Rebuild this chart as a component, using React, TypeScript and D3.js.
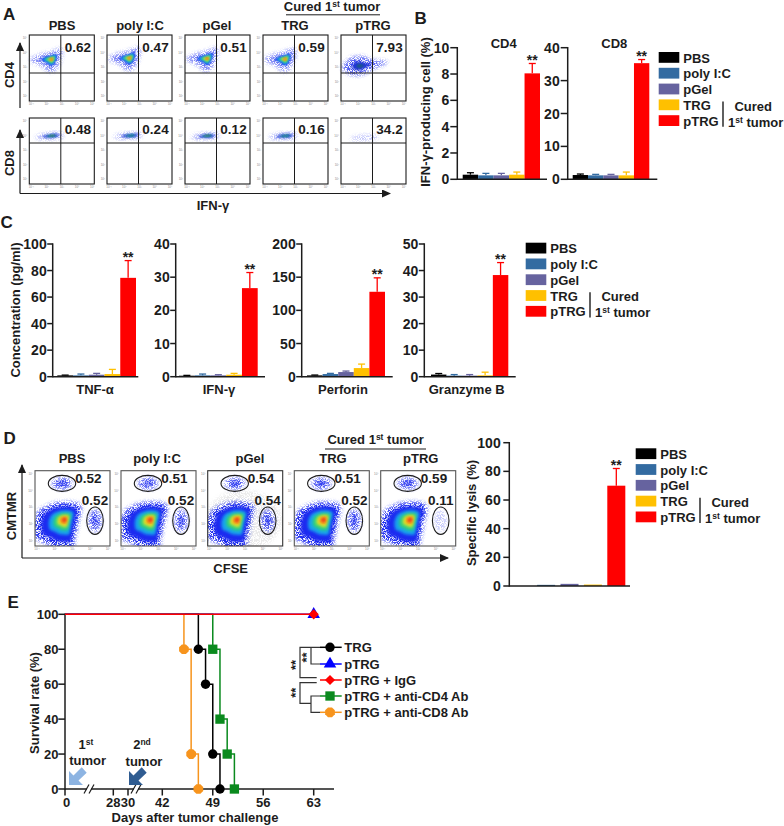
import React from "react";
import * as d3 from "d3";

const groups = ["PBS", "poly I:C", "pGel", "TRG", "pTRG"];
const groupColors = ["#000000", "#336ba1", "#66639f", "#ffc000", "#ff0000"];

// panel A
const cd4Gates = ["0.62", "0.47", "0.51", "0.59", "7.93"];
const cd8Gates = ["0.48", "0.24", "0.12", "0.16", "34.2"];

// panel B
const cd4Means = [0.35, 0.3, 0.3, 0.35, 8.05];
const cd4Tops = [0.5, 0.45, 0.45, 0.55, 8.8];
const cd8Means = [1.3, 1.2, 1.2, 1.2, 35.3];
const cd8Tops = [1.6, 1.5, 1.5, 2.2, 36.4];

// panel C
const tnfMeans = [1, 1, 1.5, 2, 74.5];
const tnfTops = [1.2, 2, 2.5, 5.5, 87.5];
const ifnMeans = [0.3, 0.4, 0.4, 0.6, 26.7];
const ifnTops = [0.4, 0.8, 0.6, 1, 31.4];
const perforinMeans = [2, 4, 7, 13, 128];
const perforinTops = [2.5, 5, 8.5, 19, 149];
const granzymeMeans = [0.8, 0.4, 0.4, 0.5, 38.3];
const granzymeTops = [1.2, 0.8, 0.8, 1.7, 43];

// panel D
const upperGates = ["0.52", "0.51", "0.54", "0.51", "0.59"];
const lowerGates = ["0.52", "0.52", "0.54", "0.52", "0.11"];
const lysisMeans = [0, 0.8, 1.5, 1, 70];
const lysisTops = [0, 0.8, 1.5, 1, 82];

// panel E
const survivalTicks = [0, 28, 30, 42, 49, 56, 63];
const trgDays = [0, 47, 47, 48, 49, 50];
const trgSurvival = [100, 100, 80, 60, 20, 0];
const cd4Days = [0, 49, 49, 50, 51, 52];
const cd4Survival = [100, 100, 80, 40, 20, 0];
const cd8Days = [0, 45, 45, 46, 47];
const cd8Survival = [100, 100, 80, 20, 0];
const ptrgDays = [0, 63];
const ptrgSurvival = [100, 100];

// contour outlines of the flow plots, around the hottest point
const wedgeOutline = [[-20, 1], [-12, -4], [-3, -6], [9, -10], [9, -1], [4, 9], [-2, 12], [-9, 6]];
const cloudOutline = [[-16, 2], [-9, -7], [1, -9], [14, -5], [26, -4], [12, 3], [2, 8], [-8, 8]];
const smearOutline = [[-16, 1], [-6, -2], [4, -3], [10, -2], [8, 2], [-2, 3], [-10, 3]];
const fanOutline = [[-29, 5], [-24, -8], [-10, -15], [6, -16], [15, -12], [12, 4], [9, 18], [7, 27], [-8, 27], [-18, 22], [-27, 18]];

const hotColors = ["#1c2cf0", "#14a4ec", "#2fd07c", "#dfe52a", "#f78c12", "#e8261a"];
const fanScales = [0.82, 0.56, 0.4, 0.27, 0.17, 0.09];
const wedgeScales = [0.56, 0.46, 0.33, 0.22, 0.13, 0.07];
const cloudColors = ["#2436d8", "#1f5f78"];
const cloudScales = [0.5, 0.22];
const smearColors = ["#2a48d8", "#1c9a80", "#5a7a30"];
const smearScales = [0.62, 0.36, 0.16];

const FONT = "'Liberation Sans', Arial, sans-serif";
const INK = "#1c1c1c";

const Label = ({ x, y, size = 13, anchor = "middle", rotate, children }: any) => (
  <text
    x={x}
    y={y}
    fontFamily={FONT}
    fontWeight="700"
    fontSize={size}
    fill={INK}
    textAnchor={anchor}
    transform={rotate ? `rotate(${rotate} ${x} ${y})` : undefined}
  >
    {children}
  </text>
);

const First = ({ x, y, anchor = "start" }: any) => (
  <Label x={x} y={y} anchor={anchor}>
    1<tspan dy={-4} fontSize={8.5}>st</tspan>
    <tspan dy={4}> tumor</tspan>
  </Label>
);

// density blob from nested closed curves, outer one speckled
const Blob = ({ cx, cy, outline, colors = hotColors, scales = fanScales, blur = "soft", clip, grain = 1 }: any) => {
  const shape = (k: number) =>
    d3
      .line()
      .curve(d3.curveCardinalClosed.tension(0.2))(
        outline.map(([px, py]: number[]) => [cx + px * k, cy + py * k]),
      ) as string;
  return (
    <g clipPath={clip}>
      <path d={shape(1.08)} fill={hotColors[0]} opacity={grain} filter="url(#grain)" />
      {scales.map((k: number, i: number) => (
        <path key={i} d={shape(k)} fill={colors[i]} filter={`url(#${blur})`} />
      ))}
    </g>
  );
};

const Tiny = ({ box, w, h }: any) => {
  const labels = ["10⁻¹", "10²", "10³", "10⁴", "10⁵"];
  return (
    <g fontFamily={FONT} fontSize={3} fill="#8a8a8a">
      {labels.map((t, i) => (
        <text key={t} x={box + 2 + (i * (w - 4)) / 4} y={h + 4} textAnchor="middle">{t}</text>
      ))}
    </g>
  );
};

const TinyY = ({ box, top, h }: any) => {
  const labels = ["10⁵", "10⁴", "10³", "10²", "10¹"];
  return (
    <g fontFamily={FONT} fontSize={3} fill="#8a8a8a">
      {labels.map((t, i) => (
        <text key={t} x={box - 2} y={top + 4 + (i * (h - 8)) / 4} textAnchor="end">{t}</text>
      ))}
    </g>
  );
};

const BarPanel = ({ x0, x1, axisX, axisEnd, top, bottom, max, count, means, tops, padding = 0, tick = 7, gap = 8 }: any) => {
  const y = d3.scaleLinear().domain([0, max]).range([bottom, top]);
  const x = d3.scaleBand<string>().domain(groups).range([x0, x1]).padding(padding);
  const w = x.bandwidth();
  return (
    <g>
      {groups.map((g, i) => {
        const left = x(g) as number;
        const mid = left + w / 2;
        return (
          <g key={g}>
            {means[i] > 0 && tops[i] > means[i] && (
              <g stroke={groupColors[i]} strokeWidth={1.3}>
                <line x1={mid} x2={mid} y1={y(means[i])} y2={y(tops[i])} />
                <line x1={mid - 3.5} x2={mid + 3.5} y1={y(tops[i])} y2={y(tops[i])} />
              </g>
            )}
            <rect x={left} y={y(means[i])} width={w} height={bottom - y(means[i])} fill={groupColors[i]} />
          </g>
        );
      })}
      <Label x={(x(groups[4]) as number) + w / 2} y={y(tops[4]) + 1.5} size={14}>**</Label>
      <g stroke={INK} strokeWidth={1.5}>
        <line x1={axisX} x2={axisX} y1={top - 0.7} y2={bottom + 0.7} />
        <line x1={axisX} x2={axisEnd} y1={bottom} y2={bottom} />
        {y.ticks(count).map((t) => (
          <line key={t} x1={axisX - tick} x2={axisX} y1={y(t)} y2={y(t)} />
        ))}
      </g>
      {y.ticks(count).map((t) => (
        <Label key={t} x={axisX - gap} y={y(t) + 5} size={14} anchor="end">{t}</Label>
      ))}
    </g>
  );
};

const GroupLegend = ({ x, y }: any) => (
  <g>
    {groups.map((g, i) => (
      <g key={g}>
        <rect x={x} y={y + i * 15.8} width={20.6} height={10.8} fill={groupColors[i]} />
        <Label x={x + 24.6} y={y + 10.5 + i * 15.8} anchor="start">{g}</Label>
      </g>
    ))}
    <line x1={x + 64.3} x2={x + 64.3} y1={y + 49.5} y2={y + 74.7} stroke={INK} strokeWidth={1.4} />
    <Label x={x + 94.5} y={y + 58.7}>Cured</Label>
    <First x={x + 69.3} y={y + 74.7} />
  </g>
);

const Arrow = ({ x, y, fill }: any) => {
  const pts: [number, number][] = [[0, 0], [0, -14], [4.5, -9.5], [12.7, -17.7], [17.7, -12.3], [9.5, -4.5], [14, 0]];
  return <polygon points={pts.map(([a, b]) => `${x + a},${y + b}`).join(" ")} fill={fill} />;
};

const octagon = {
  draw(ctx: any, size: number) {
    const r = Math.sqrt(size / 2.83);
    d3.range(8).forEach((i) => {
      const a = Math.PI / 8 + (i * Math.PI) / 4;
      if (i === 0) ctx.moveTo(r * Math.cos(a), r * Math.sin(a));
      else ctx.lineTo(r * Math.cos(a), r * Math.sin(a));
    });
    ctx.closePath();
  },
};

const survivalSeries = [
  { name: "TRG", color: "#000000", symbol: d3.symbolCircle, days: trgDays, rates: trgSurvival, size: 70 },
  { name: "pTRG", color: "#0000ff", symbol: d3.symbolTriangle, days: ptrgDays, rates: ptrgSurvival, size: 68 },
  { name: "pTRG + IgG", color: "#ff0000", symbol: d3.symbolDiamond2, days: ptrgDays, rates: ptrgSurvival, size: 66 },
  { name: "pTRG + anti-CD4 Ab", color: "#0a8a1e", symbol: d3.symbolSquare, days: cd4Days, rates: cd4Survival, size: 87 },
  { name: "pTRG + anti-CD8 Ab", color: "#f7941d", symbol: octagon, days: cd8Days, rates: cd8Survival, size: 78 },
];
const drawOrder = [0, 3, 4, 1, 2];

const Survival = () => {
  const x = d3.scaleLinear().domain([0, 28, 30, 42, 63, 66]).range([65, 113.3, 128, 162.3, 313.7, 334]);
  const y = d3.scaleLinear().domain([0, 100]).range([789, 614.3]);
  const step = d3.line<[number, number]>().x((d) => x(d[0])).y((d) => y(d[1])).curve(d3.curveStepAfter);
  const legendY = [647.3, 664, 680, 696, 712.3];
  return (
    <g>
      <g stroke={INK} strokeWidth={1.5}>
        <line x1={65} x2={65} y1={613.6} y2={789.7} />
        <line x1={65} x2={334} y1={789} y2={789} />
        {y.ticks(5).map((t) => (
          <line key={t} x1={58.3} x2={65} y1={y(t)} y2={y(t)} />
        ))}
        {survivalTicks.map((t) => (
          <line key={t} x1={x(t)} x2={x(t)} y1={789} y2={795.5} />
        ))}
      </g>
      {y.ticks(5).map((t) => (
        <Label key={t} x={58.5} y={y(t) + 4.7} anchor="end">{t}</Label>
      ))}
      {survivalTicks.map((t) => (
        <Label key={t} x={x(t) + (t === 0 ? 1.5 : 0)} y={806.7}>{t}</Label>
      ))}
      {[89, 136].map((bx) => (
        <g key={bx}>
          <rect x={bx - 2} y={786} width={4} height={6} fill="#fff" />
          <line x1={bx - 5} x2={bx} y1={793.5} y2={784.5} stroke={INK} strokeWidth={1.2} />
          <line x1={bx} x2={bx + 5} y1={793.5} y2={784.5} stroke={INK} strokeWidth={1.2} />
        </g>
      ))}
      {drawOrder.map((k) => {
        const s = survivalSeries[k];
        const pts = s.days.map((d, i) => [d, s.rates[i]] as [number, number]);
        const marks = s.days.length === 2 ? pts.slice(1) : pts.slice(2);
        const glyph = d3.symbol().type(s.symbol as any).size(s.size)() as string;
        return (
          <g key={s.name}>
            <path d={step(pts) as string} fill="none" stroke={s.color} strokeWidth={1.5} />
            {marks.map((p, i) => (
              <path key={i} d={glyph} fill={s.color} transform={`translate(${x(p[0])},${y(p[1])})`} />
            ))}
          </g>
        );
      })}
      {survivalSeries.map((s, i) => (
        <g key={s.name}>
          <line x1={320} x2={341.7} y1={legendY[i]} y2={legendY[i]} stroke={s.color} strokeWidth={1.5} />
          <path d={d3.symbol().type(s.symbol as any).size(s.size)() as string} fill={s.color} transform={`translate(330,${legendY[i]})`} />
          <Label x={344.3} y={legendY[i] + 4.6} anchor="start">{s.name}</Label>
        </g>
      ))}
      <path
        d="M320,647.3H300V677.7H316.7 M311,647.3V664H320 M316.7,682.7H300V703.3H311 M320,696H311V712.3H320"
        fill="none"
        stroke="#333"
        strokeWidth={1.2}
      />
      <Label x={311} y={657.5} rotate={-90}>**</Label>
      <Label x={300} y={665} rotate={-90}>**</Label>
      <Label x={300} y={692.7} rotate={-90}>**</Label>
      <Label x={86} y={749}>1<tspan dy={-4} fontSize={8.5}>st</tspan></Label>
      <Label x={87.7} y={765}>tumor</Label>
      <Label x={142} y={749}>2<tspan dy={-4} fontSize={8.5}>nd</tspan></Label>
      <Label x={144} y={765.5}>tumor</Label>
      <Arrow x={69} y={785} fill="#8db4e2" />
      <Arrow x={129} y={785} fill="#2f5c91" />
      <Label x={195} y={822}>Days after tumor challenge</Label>
      <Label x={38.5} y={703} rotate={-90}>Survival rate (%)</Label>
    </g>
  );
};

const App = () => {
  const boxesA = [29.3, 107, 185, 263, 341];
  const wA = 65;
  const boxesD = [35, 121, 207.7, 294.3, 380.7];
  const wD = 75;
  const titleA = [62, 140, 217, 295, 373];
  const titleD = [72, 157, 250, 333, 420.7];
  const cd4Peak = [[22.3, 24.3], [22.7, 23], [22.3, 23.5], [22.3, 24]];
  const cd8Peak = [[23, 17.8], [24, 17.5], [23, 17.8], [23, 17.8]];
  return (
    <svg width={784} height={826} style={{ position: "absolute", left: 0, top: 0, background: "#fff" }}>
      <defs>
        <filter id="soft" x="-40%" y="-40%" width="180%" height="180%">
          <feGaussianBlur stdDeviation="0.8" />
        </filter>
        <filter id="wide" x="-40%" y="-40%" width="180%" height="180%">
          <feGaussianBlur stdDeviation="1.7" />
        </filter>
        <filter id="grain" x="-30%" y="-30%" width="160%" height="160%">
          <feGaussianBlur stdDeviation="2" result="body" />
          <feTurbulence type="fractalNoise" baseFrequency="1.25" numOctaves="1" seed="7" result="noise" />
          <feColorMatrix in="noise" type="matrix" values="0 0 0 0 0  0 0 0 0 0  0 0 0 0 0  8 0 0 0 -3.4" result="mask" />
          <feComposite in="body" in2="mask" operator="in" />
        </filter>
        <marker id="head" markerWidth="10" markerHeight="10" refX="8" refY="4" orient="auto" markerUnits="userSpaceOnUse">
          <path d="M0,0L9,4L0,8Z" fill={INK} />
        </marker>
        {boxesD.map((b, i) => (
          <clipPath key={i} id={`boxD${i}`}>
            <rect x={b} y={470.7} width={wD} height={75.3} />
          </clipPath>
        ))}
      </defs>

      {/* A */}
      <Label x={3} y={20} size={17} anchor="start">A</Label>
      {groups.map((g, i) => (
        <Label key={g} x={titleA[i]} y={30}>{g}</Label>
      ))}
      <Label x={332} y={10.5}>Cured 1<tspan dy={-4} fontSize={8.5}>st</tspan><tspan dy={4}> tumor</tspan></Label>
      <line x1={286} x2={380} y1={14.8} y2={14.8} stroke={INK} strokeWidth={1} />
      {boxesA.map((b, i) => (
        <g key={b}>
          {i < 4 ? (
            <Blob cx={b + cd4Peak[i][0]} cy={35 + cd4Peak[i][1]} outline={wedgeOutline} scales={wedgeScales} grain={0.6} />
          ) : (
            <Blob cx={b + 18.7} cy={66} outline={cloudOutline} colors={cloudColors} scales={cloudScales} grain={0.8} />
          )}
          <rect x={b} y={35} width={wA} height={66} fill="none" stroke={INK} strokeWidth={1.1} />
          <line x1={b + 31.5} x2={b + 31.5} y1={35} y2={101} stroke={INK} strokeWidth={1} />
          <line x1={b} x2={b + wA} y1={73} y2={73} stroke={INK} strokeWidth={1} />
          <Label x={b + 48.5} y={51.5} size={13.5}>{cd4Gates[i]}</Label>
          <Tiny box={b} w={wA} h={101} />
          <TinyY box={b} top={35} h={66} />
          {i < 4 ? (
            <Blob cx={b + cd8Peak[i][0]} cy={118 + cd8Peak[i][1]} outline={smearOutline} colors={smearColors} scales={i === 0 || i === 2 ? smearScales : smearScales.slice(0, 2)} grain={0.5} />
          ) : (
            <Blob cx={b + 26} cy={137.5} outline={smearOutline} scales={[]} grain={0.3} />
          )}
          <rect x={b} y={118} width={wA} height={66} fill="none" stroke={INK} strokeWidth={1.1} />
          <line x1={b + 31.5} x2={b + 31.5} y1={118} y2={184} stroke={INK} strokeWidth={1} />
          <line x1={b} x2={b + wA} y1={143} y2={143} stroke={INK} strokeWidth={1} />
          <Label x={b + 48.5} y={133.5} size={13.5}>{cd8Gates[i]}</Label>
          <Tiny box={b} w={wA} h={184} />
          <TinyY box={b} top={118} h={66} />
        </g>
      ))}
      <g stroke={INK} strokeWidth={1.2} fill="none">
        <line x1={20} x2={20} y1={108} y2={43} markerEnd="url(#head)" />
        <line x1={20} x2={20} y1={193.5} y2={130} markerEnd="url(#head)" />
        <line x1={20} x2={390} y1={193.5} y2={193.5} markerEnd="url(#head)" />
      </g>
      <Label x={14} y={75} rotate={-90}>CD4</Label>
      <Label x={14} y={163} rotate={-90}>CD8</Label>
      <Label x={213} y={210}>IFN-γ</Label>

      {/* B */}
      <Label x={414.5} y={24} size={17} anchor="start">B</Label>
      <BarPanel x0={462.7} x1={540} axisX={457.3} axisEnd={547} top={47.7} bottom={179.3} max={10} count={5} means={cd4Means} tops={cd4Tops} />
      <BarPanel x0={572.7} x1={649.3} axisX={567.7} axisEnd={657.3} top={47.7} bottom={179.3} max={40} count={4} means={cd8Means} tops={cd8Tops} />
      <Label x={503.7} y={47.7}>CD4</Label>
      <Label x={614.3} y={47.7}>CD8</Label>
      <Label x={429.5} y={112} rotate={-90}>IFN-γ-producing cell (%)</Label>
      <GroupLegend x={658.7} y={52} />

      {/* C */}
      <Label x={0.5} y={228} size={17} anchor="start">C</Label>
      <BarPanel x0={57.3} x1={136} axisX={52.7} axisEnd={138.3} top={244} bottom={376.7} max={100} count={5} means={tnfMeans} tops={tnfTops} tick={5.5} gap={6} />
      <BarPanel x0={179} x1={257.7} axisX={175.7} axisEnd={265} top={244} bottom={376.7} max={40} count={4} means={ifnMeans} tops={ifnTops} tick={5.5} gap={6} />
      <BarPanel x0={307} x1={385} axisX={301.7} axisEnd={392.7} top={244} bottom={376.7} max={200} count={4} means={perforinMeans} tops={perforinTops} tick={5.5} gap={6} />
      <BarPanel x0={431} x1={508.3} axisX={424.3} axisEnd={515.7} top={244} bottom={376.7} max={50} count={5} means={granzymeMeans} tops={granzymeTops} tick={5.5} gap={6} />
      <Label x={95} y={394}>TNF-α</Label>
      <Label x={219} y={394}>IFN-γ</Label>
      <Label x={343} y={394}>Perforin</Label>
      <Label x={466.7} y={394}>Granzyme B</Label>
      <Label x={19.5} y={310} rotate={-90}>Concentration (pg/ml)</Label>
      <GroupLegend x={525.7} y={242.7} />

      {/* D */}
      <Label x={3.5} y={444} size={17} anchor="start">D</Label>
      {groups.map((g, i) => (
        <Label key={g} x={titleD[i]} y={463.3}>{g}</Label>
      ))}
      <Label x={375.7} y={444}>Cured 1<tspan dy={-4} fontSize={8.5}>st</tspan><tspan dy={4}> tumor</tspan></Label>
      <line x1={325} x2={426} y1={449} y2={449} stroke={INK} strokeWidth={1} />
      {boxesD.map((b, i) => (
        <g key={b}>
          {i === 2 && <ellipse cx={b + 36} cy={520} rx={38} ry={30} fill="#b4b4b4" opacity={0.28} clipPath={`url(#boxD${i})`} filter="url(#grain)" />}
          <Blob cx={b + 30} cy={519.4} outline={fanOutline} blur="wide" clip={`url(#boxD${i})`} />
          <ellipse cx={b + 27} cy={483.4} rx={10} ry={6} fill={hotColors[0]} opacity={0.8} filter="url(#grain)" />
          <ellipse cx={b + 27} cy={483.4} rx={4.5} ry={3} fill={hotColors[0]} opacity={0.45} filter="url(#soft)" />
          <ellipse cx={b + 60} cy={520.7} rx={6.5} ry={11} fill={hotColors[0]} opacity={i === 4 ? 0.25 : 0.8} filter="url(#grain)" />
          {i < 4 && <ellipse cx={b + 60} cy={520.7} rx={3} ry={5} fill={hotColors[0]} opacity={0.4} filter="url(#soft)" />}
          <ellipse cx={b + 27} cy={483.4} rx={13.7} ry={8} fill="none" stroke={INK} strokeWidth={1.1} />
          <ellipse cx={b + 60} cy={520.7} rx={8.3} ry={13.7} fill="none" stroke={INK} strokeWidth={1.1} />
          <rect x={b} y={470.7} width={wD} height={75.3} fill="none" stroke={i === 2 ? "#333" : "#555"} strokeWidth={1.1} />
          <Label x={b + 53.3} y={482.8} size={13.5}>{upperGates[i]}</Label>
          <Label x={b + 60} y={504.5} size={13.5}>{lowerGates[i]}</Label>
          <Tiny box={b} w={wD} h={546} />
          <TinyY box={b} top={470.7} h={75.3} />
        </g>
      ))}
      <g stroke={INK} strokeWidth={1.2} fill="none">
        <line x1={22} x2={22} y1={558} y2={465} markerEnd="url(#head)" />
        <line x1={22} x2={448} y1={558} y2={558} markerEnd="url(#head)" />
      </g>
      <Label x={15.5} y={516} rotate={-90}>CMTMR</Label>
      <Label x={230.7} y={573}>CFSE</Label>
      <BarPanel x0={508.3} x1={630.7} axisX={509.3} axisEnd={630} top={442.7} bottom={586} max={100} count={5} means={lysisMeans} tops={lysisTops} padding={0.23} tick={6} gap={8.6} />
      <Label x={475.5} y={513} rotate={-90}>Specific lysis (%)</Label>
      <GroupLegend x={635.7} y={448.3} />

      {/* E */}
      <Label x={7.5} y={608} size={17} anchor="start">E</Label>
      <Survival />
    </svg>
  );
};

export default App;
